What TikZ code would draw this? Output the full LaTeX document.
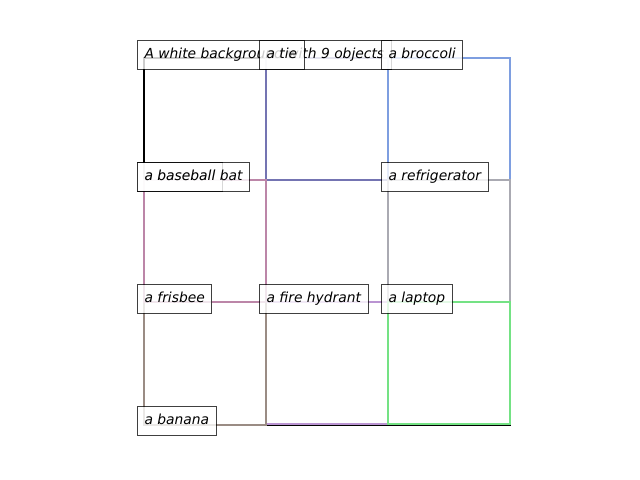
\documentclass[tikz,border=0pt]{standalone}
\usepackage{fontspec}
\setmainfont{DejaVu Sans}
\usepackage{xcolor}
\usepackage{tikz}
\definecolor{bgline}{RGB}{0,0,0}
\definecolor{tieline}{RGB}{116,116,178}
\definecolor{broccline}{RGB}{126,158,224}
\definecolor{batline}{RGB}{188,134,168}
\definecolor{fridgeline}{RGB}{170,170,178}
\definecolor{hydrantline}{RGB}{186,148,210}
\definecolor{frisline}{RGB}{154,140,132}
\definecolor{laptopline}{RGB}{116,226,132}

\begin{document}
\begin{tikzpicture}[
  x=0.01in, y=-0.01in,
  every node/.style={font=\fontsize{10pt}{12pt}\selectfont\itshape},
  objbox/.style={line width=1.6pt},
  lbl/.style={draw=black, draw opacity=0.75, fill=white, fill opacity=0.8, text opacity=1,
    line width=0.72pt, anchor=base west, inner xsep=0.07in, inner ysep=0.07in,
    text height=0.11in, text depth=0.03in}
]
\useasboundingbox (0,0) rectangle (640,480);

% boxes
\draw[objbox, bgline] (144,58) rectangle (510,425);
\draw[objbox, tieline] (266,58) rectangle (388,180);
\draw[objbox, broccline] (388,58) rectangle (510,180);
\draw[objbox, fridgeline] (388,180) rectangle (510,302);
\draw[objbox, hydrantline] (266,302) rectangle (388,424);
\draw[objbox, frisline] (144,302) rectangle (266,425);
\draw[objbox, batline] (144,180) rectangle (266,302);
\draw[objbox, laptopline] (388,302) rectangle (510,424);

% labels
\node[lbl] (bglbl) at (137,59) {A white background with 9 objects};
\node[lbl] (tielbl) at (259,59) {a tie};
\node[lbl] (brocclbl) at (381,59) {a broccoli};
\node[lbl] (balllbl) at (137,181) {a baseball};
\node[lbl] (batlbl) at (137,181) {a baseball bat};
\node[lbl] (fridgelbl) at (381,181) {a refrigerator};
\node[lbl] (frislbl) at (137,303) {a frisbee};
\node[lbl] (hydrantlbl) at (259,303) {a fire hydrant};
\node[lbl] (laptoplbl) at (381,303) {a laptop};
\node[lbl] (bananalbl) at (137,425) {a banana};
\end{tikzpicture}
\end{document}
